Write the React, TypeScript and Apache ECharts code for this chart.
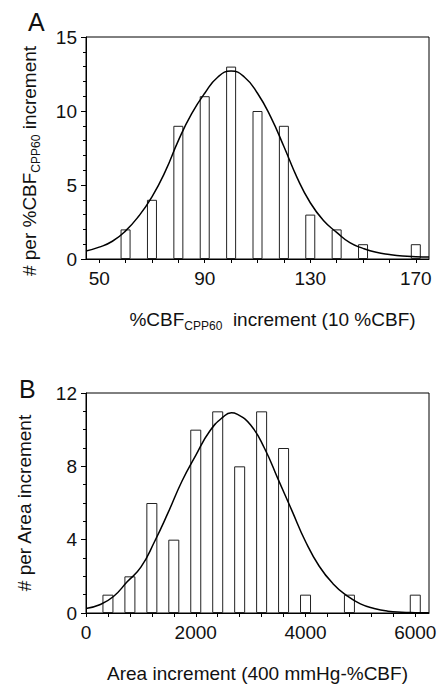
import React, { useEffect, useRef } from "react";
import * as echarts from "echarts";

const FONT = '"Liberation Sans", Arial, Helvetica, sans-serif';

// Panel A: histogram of %CBF_CPP60 increment
const binsA = [60, 70, 80, 90, 100, 110, 120, 130, 140, 150, 170];
const countsA = [2, 4, 9, 11, 13, 10, 9, 3, 2, 1, 1];
const fitXA = [45, 50, 55, 60, 65, 70, 75, 80, 85, 90, 95, 100, 105, 110, 115, 120, 125, 130, 135, 140, 145, 150, 155, 160, 165, 170, 175];
const fitYA = [0.54, 0.8, 1.2, 1.9, 2.9, 4.2, 5.9, 8.0, 9.8, 11.2, 12.3, 12.7, 12.3, 11.2, 9.6, 7.6, 5.5, 3.8, 2.6, 1.8, 1.1, 0.72, 0.45, 0.3, 0.2, 0.16, 0.14];
const xTicksA = [50, 60, 70, 80, 90, 100, 110, 120, 130, 140, 150, 160, 170];
const xLabelsA = [50, 90, 130, 170];

// Panel B: histogram of Area increment
const binsB = [400, 800, 1200, 1600, 2000, 2400, 2800, 3200, 3600, 4000, 4800, 6000];
const countsB = [1, 2, 6, 4, 10, 11, 8, 11, 9, 1, 1, 1];
const fitXB = [0, 250, 500, 750, 1000, 1250, 1500, 1750, 2000, 2250, 2500, 2650, 2750, 3000, 3250, 3500, 3750, 4000, 4250, 4500, 4750, 5000, 5250, 5500, 5750, 6000, 6250];
const fitYB = [0.25, 0.45, 0.9, 1.7, 2.5, 3.9, 5.5, 7.2, 8.6, 9.9, 10.7, 10.92, 10.85, 10.25, 9.0, 7.3, 5.6, 3.9, 2.55, 1.6, 0.95, 0.5, 0.25, 0.1, 0.04, 0.02, 0.01];
const xTicksB = [0, 400, 800, 1200, 1600, 2000, 2400, 2800, 3200, 3600, 4000, 4400, 4800, 5200, 5600, 6000];
const xLabelsB = [0, 2000, 4000, 6000];

const zip = (a: number[], b: number[]) => a.map((v, i) => [v, b[i]]);

const labelStyle = { fontFamily: FONT, fontSize: 19, color: "#111" };

function xAxisCfg(gridIndex: number, min: number, max: number, ticks: number[], labels: number[], name: string, nameGap: number, rich: any, padding: number[]) {
  return {
    type: "value",
    gridIndex,
    min,
    max,
    name,
    nameLocation: "middle",
    nameGap,
    nameTextStyle: { ...labelStyle, padding, rich },
    axisLine: { show: true, lineStyle: { color: "#000", width: 1 } },
    axisTick: { show: true, length: 4, customValues: ticks, lineStyle: { color: "#000" } },
    axisLabel: { ...labelStyle, margin: 10, customValues: labels, formatter: (v: number) => String(v) },
    splitLine: { show: false },
  };
}

function yAxisCfg(gridIndex: number, max: number, interval: number, name: string, nameGap: number, rich: any, padding: number[]) {
  return {
    type: "value",
    gridIndex,
    min: 0,
    max,
    interval,
    name,
    nameLocation: "middle",
    nameGap,
    nameTextStyle: { ...labelStyle, padding, rich },
    axisLine: { show: true, lineStyle: { color: "#000", width: 1 } },
    axisTick: { show: true, length: 5, lineStyle: { color: "#000" } },
    minorTick: { show: true, splitNumber: interval, length: 3, lineStyle: { color: "#000" } },
    axisLabel: { ...labelStyle, margin: 9, formatter: (v: number) => String(v) },
    splitLine: { show: false },
  };
}

const subRich = {
  a: { fontFamily: FONT, fontSize: 19, color: "#111", lineHeight: 26 },
  s: { fontFamily: FONT, fontSize: 12, color: "#111", lineHeight: 13, verticalAlign: "bottom" },
};

export default function App() {
  const ref = useRef<HTMLDivElement>(null);
  useEffect(() => {
    if (!ref.current) return;
    const chart = echarts.init(ref.current, undefined, { renderer: "svg" });
    chart.setOption({
      animation: false,
      backgroundColor: "#fff",
      grid: [
        { left: 86, top: 37, width: 343, height: 222, show: true, borderColor: "#000", borderWidth: 1 },
        { left: 86, top: 393, width: 343, height: 220, show: true, borderColor: "#000", borderWidth: 1 },
      ],
      xAxis: [
        xAxisCfg(0, 45, 175, xTicksA, xLabelsA, "{a|%CBF}{s|CPP60}{a|  increment (10 %CBF)}", 47, subRich, [0, 0, 0, 30]),
        xAxisCfg(1, 0, 6250, xTicksB, xLabelsB, "Area increment (400 mmHg-%CBF)", 51, undefined, [0, 0, 0, 0]),
      ],
      yAxis: [
        yAxisCfg(0, 15, 5, "{a|# per %CBF}{s|CPP60}{a| increment}", 44, subRich, [0, 26, 0, 0]),
        yAxisCfg(1, 12, 4, "# per Area increment", 52, undefined, [0, 0, 0, 0]),
      ],
      graphic: [
        { type: "text", left: 28, top: 9, style: { text: "A", fontFamily: FONT, fontSize: 25, fill: "#111" } },
        { type: "text", left: 19, top: 376, style: { text: "B", fontFamily: FONT, fontSize: 25, fill: "#111" } },
      ],
      series: [
        {
          type: "bar",
          xAxisIndex: 0,
          yAxisIndex: 0,
          data: zip(binsA, countsA),
          barWidth: 10,
          itemStyle: { color: "#fff", borderColor: "#222", borderWidth: 1 },
          z: 2,
        },
        {
          type: "line",
          xAxisIndex: 0,
          yAxisIndex: 0,
          data: zip(fitXA, fitYA),
          smooth: true,
          symbol: "none",
          lineStyle: { color: "#000", width: 1.5 },
          z: 3,
        },
        {
          type: "bar",
          xAxisIndex: 1,
          yAxisIndex: 1,
          data: zip(binsB, countsB),
          barWidth: 11,
          itemStyle: { color: "#fff", borderColor: "#222", borderWidth: 1 },
          z: 2,
        },
        {
          type: "line",
          xAxisIndex: 1,
          yAxisIndex: 1,
          data: zip(fitXB, fitYB),
          smooth: true,
          symbol: "none",
          lineStyle: { color: "#000", width: 1.5 },
          z: 3,
        },
      ],
    });
    return () => chart.dispose();
  }, []);
  return <div ref={ref} style={{ position: "absolute", left: 0, top: 0, width: 442, height: 686 }} />;
}
